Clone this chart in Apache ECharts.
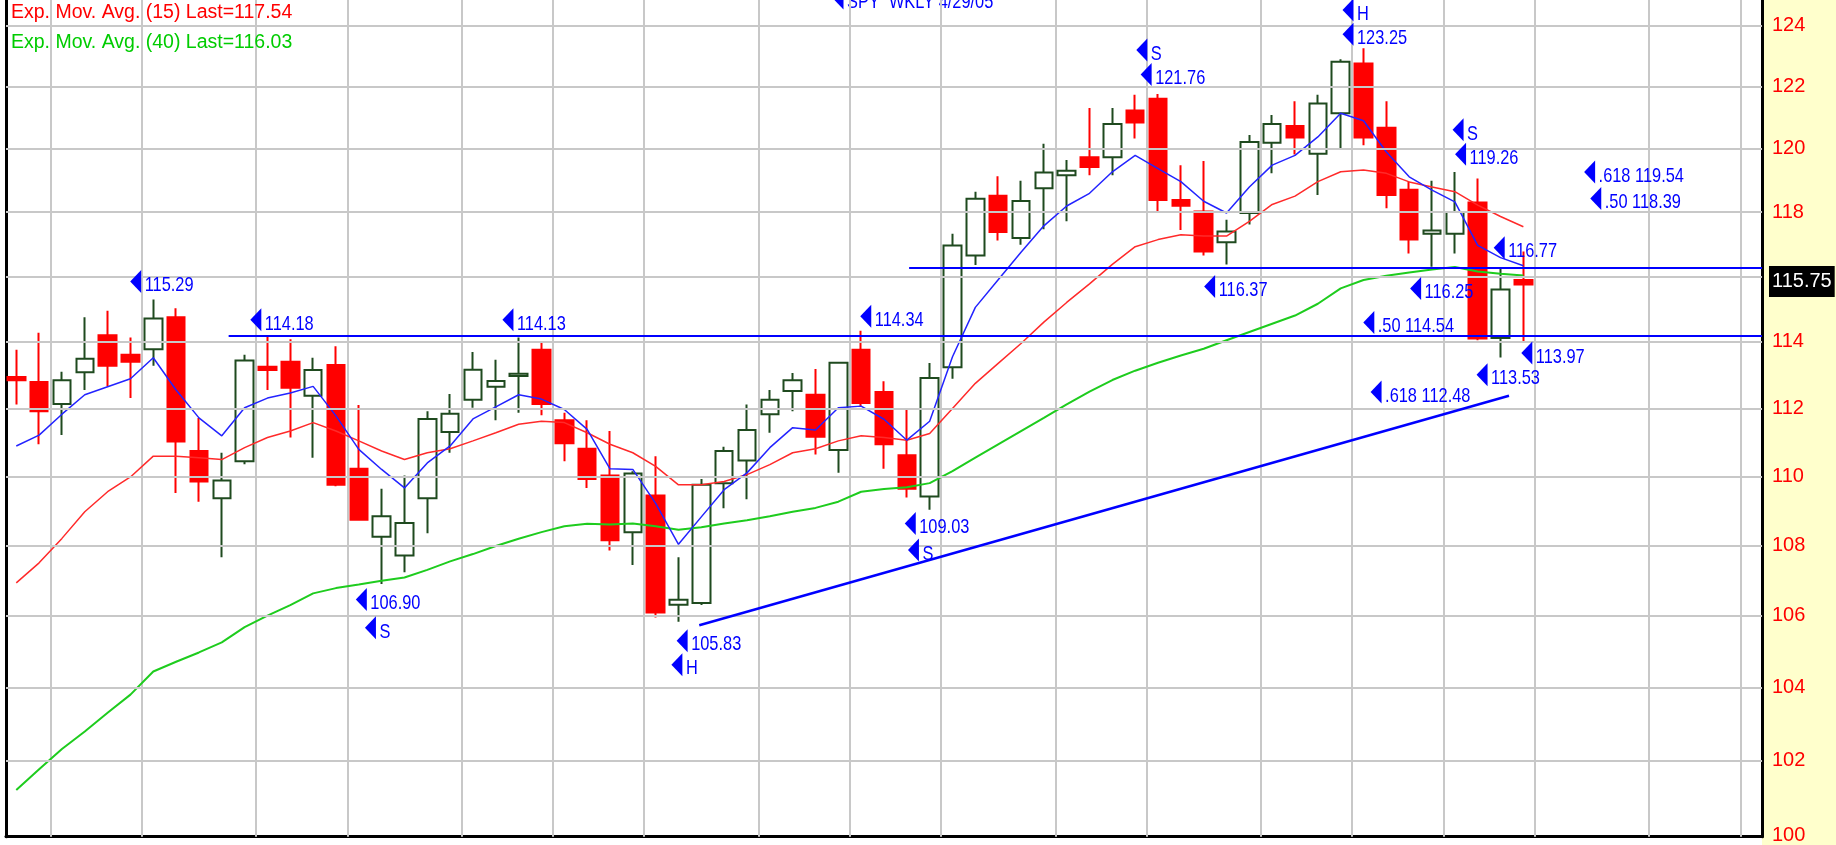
<!DOCTYPE html>
<html>
<head>
<meta charset="utf-8">
<title>SPY WKLY 4/29/05</title>
<script src="https://cdn.jsdelivr.net/npm/echarts@6.0.0/dist/echarts.min.js"></script>
<style>
  html, body { margin: 0; padding: 0; background: #fff; }
  #chart { width: 1836px; height: 845px; }
</style>
</head>
<body>
<div id="chart"></div>
<script>
// weekly bars, labelled by the monday of the week. the last weeks are the empty space on the right
var weeks = [
  '2004-01-19','2004-01-26','2004-02-02','2004-02-09','2004-02-16','2004-02-23','2004-03-01','2004-03-08',
  '2004-03-15','2004-03-22','2004-03-29','2004-04-05','2004-04-12','2004-04-19','2004-04-26','2004-05-03',
  '2004-05-10','2004-05-17','2004-05-24','2004-05-31','2004-06-07','2004-06-14','2004-06-21','2004-06-28',
  '2004-07-05','2004-07-12','2004-07-19','2004-07-26','2004-08-02','2004-08-09','2004-08-16','2004-08-23',
  '2004-08-30','2004-09-06','2004-09-13','2004-09-20','2004-09-27','2004-10-04','2004-10-11','2004-10-18',
  '2004-10-25','2004-11-01','2004-11-08','2004-11-15','2004-11-22','2004-11-29','2004-12-06','2004-12-13',
  '2004-12-20','2004-12-27','2005-01-03','2005-01-10','2005-01-17','2005-01-24','2005-01-31','2005-02-07',
  '2005-02-14','2005-02-21','2005-02-28','2005-03-07','2005-03-14','2005-03-21','2005-03-28','2005-04-04',
  '2005-04-11','2005-04-18','2005-04-25','2005-05-02','2005-05-09','2005-05-16','2005-05-23','2005-05-30',
  '2005-06-06','2005-06-13','2005-06-20','2005-06-27','2005-07-04'
];

var opens = [112.94,112.79,112.13,113.08,114.20,113.61,113.78,114.75,110.74,109.36,110.44,113.25,113.40,112.38,113.30,110.22,
  108.25,107.71,109.36,111.30,112.26,112.65,112.97,113.76,111.65,110.81,110.02,108.38,109.44,106.31,106.36,109.80,
  110.46,111.83,112.52,112.41,110.77,113.76,112.49,110.62,109.41,113.23,116.65,118.51,117.19,118.75,119.16,119.73,
  119.73,121.23,121.61,118.38,118.02,117.06,117.97,120.19,120.73,119.84,121.14,122.75,120.67,118.70,117.32,117.32,
  118.30,114.12,115.89];
var closes = [112.84,111.92,112.84,113.49,113.28,113.40,114.71,111.02,109.85,109.88,113.44,113.15,112.62,113.15,109.75,108.74,
  108.84,108.64,111.69,111.84,113.16,112.82,113.04,112.13,110.97,109.92,108.15,110.08,106.09,106.45,109.75,110.74,
  111.36,112.26,112.84,111.16,113.37,112.16,110.94,109.64,112.91,116.96,118.42,117.38,118.35,119.25,119.30,119.42,
  120.79,120.84,118.38,118.20,116.77,117.39,120.22,120.79,120.36,121.45,122.81,120.36,118.54,117.14,117.42,118.00,
  114.10,115.60,115.75];
var lows = [112.12,110.94,111.21,112.55,112.66,112.31,113.28,109.51,109.26,107.66,110.35,112.55,111.14,110.54,109.71,108.74,
  106.90,107.23,108.35,110.69,112.02,111.65,111.87,111.80,110.44,109.66,107.85,107.44,105.95,105.83,106.30,109.07,
  109.33,111.28,111.92,110.64,110.10,112.07,110.22,109.38,109.03,112.89,116.35,117.11,116.98,117.46,117.71,119.16,
  119.16,120.33,117.99,117.44,116.65,116.37,117.61,119.22,119.82,118.54,120.00,120.11,118.12,116.71,116.30,116.71,
  114.05,113.53,113.97];
var highs = [113.76,114.28,113.10,114.75,114.95,114.13,115.29,115.02,111.72,110.69,113.61,114.18,114.08,113.52,113.87,112.10,
  109.64,110.02,111.92,112.43,113.69,113.46,114.13,114.00,111.87,111.65,111.33,110.15,110.59,107.66,109.92,110.87,
  112.12,112.55,113.06,113.18,113.40,114.34,112.81,111.97,113.36,117.32,118.64,119.13,118.99,120.16,119.64,121.31,
  121.31,121.74,121.76,119.48,119.61,117.76,120.44,121.08,121.53,121.74,122.89,123.25,121.53,118.96,118.99,119.26,
  119.06,116.27,116.77];

// averages at each bar
var emaFast = [110.89,111.21,111.83,112.41,112.65,112.89,113.52,112.55,111.72,111.19,112.02,112.31,112.46,112.66,111.78,110.79,
  110.20,109.66,110.39,110.89,111.69,112.05,112.41,112.28,111.97,111.38,110.22,110.20,109.21,108.03,108.82,109.61,
  110.10,110.84,111.43,111.36,112.02,112.07,111.68,111.06,111.62,113.55,115.05,115.90,116.75,117.57,118.19,118.59,
  119.27,119.79,119.37,118.96,118.34,117.97,118.79,119.48,119.79,120.38,121.14,120.90,119.90,119.11,118.69,118.32,
  116.96,116.58,116.33];
var ema15 = [106.93,107.50,108.20,108.97,109.55,109.98,110.59,110.59,110.54,110.49,110.84,111.14,111.33,111.58,111.33,111.04,
  110.74,110.49,110.69,110.81,111.04,111.28,111.53,111.62,111.58,111.28,110.94,110.69,110.29,109.75,109.75,109.85,
  110.05,110.34,110.69,110.81,111.04,111.19,111.14,111.06,111.26,112.00,112.75,113.35,113.95,114.60,115.20,115.77,
  116.37,116.92,117.14,117.29,117.25,117.25,117.71,118.24,118.50,118.96,119.27,119.33,119.22,118.95,118.79,118.64,
  118.22,117.86,117.54];
var ema40 = [101.20,101.76,102.31,102.79,103.30,103.80,104.44,104.71,104.97,105.25,105.68,106.00,106.30,106.63,106.78,106.88,
  106.99,107.08,107.30,107.54,107.75,107.98,108.19,108.38,108.55,108.62,108.60,108.63,108.55,108.45,108.52,108.63,
  108.72,108.84,108.97,109.08,109.26,109.55,109.63,109.68,109.80,110.15,110.55,110.94,111.33,111.72,112.12,112.50,
  112.85,113.13,113.37,113.59,113.79,114.05,114.30,114.55,114.80,115.16,115.63,115.89,116.02,116.12,116.21,116.29,
  116.15,116.08,116.03];

var priceTicks = [100, 102, 104, 106, 108, 110, 112, 114, 116, 118, 120, 122, 124];

// drawn-in notes: [bar position, price, text]
var notes = [
  [5.23, 115.84, '115.29'], [10.49, 114.67, '114.18'], [21.53, 114.67, '114.13'], [37.2, 114.78, '114.34'],
  [39.15, 108.63, '109.03'], [39.29, 107.87, 'S'], [15.11, 106.46, '106.90'], [15.51, 105.66, 'S'],
  [29.16, 105.30, '105.83'], [28.93, 104.63, 'H'], [49.29, 123.19, 'S'], [49.48, 122.39, '121.76'],
  [58.32, 124.51, 'H'], [58.32, 123.71, '123.25'], [63.14, 120.61, 'S'], [63.25, 119.83, '119.26'],
  [68.9, 119.26, '.618 119.54'], [69.17, 118.43, '.50 118.39'], [64.94, 116.89, '116.77'],
  [52.26, 115.69, '116.37'], [61.28, 115.63, '116.25'], [59.23, 114.59, '.50 114.54'],
  [66.15, 113.66, '113.97'], [64.19, 113.01, '113.53'], [59.55, 112.49, '.618 112.48']
];

// horizontal levels [start bar, price], they run to the right edge
var levels = [[9.3, 114.18], [39.1, 116.27]];
// trend line [bar, price] -> [bar, price]
var trend = [[29.91, 105.73], [65.37, 112.38]];

var xMin = -0.45, xMax = weeks.length - 0.55;
var blue = '#0000ff';

// month gridlines sit between the last week of a month and the first of the next
var monthLines = [];
for (var i = 1; i < weeks.length; i++) {
  if (weeks[i].slice(5, 7) !== weeks[i - 1].slice(5, 7)) monthLines.push(i - 0.5);
}

var candles = opens.map(function (o, i) { return [i, o, closes[i], lows[i], highs[i]]; });
function pts(arr) { return arr.map(function (v, i) { return [i, v]; }); }

var lastClose = closes[closes.length - 1];

var markLines = levels.map(function (l) {
  return [{ coord: [l[0], l[1]] }, { coord: [xMax, l[1]] }];
});
markLines.push([{ coord: trend[0], lineStyle: { width: 2.5 } }, { coord: trend[1] }]);
markLines.push({
  yAxis: lastClose,
  lineStyle: { color: 'rgba(0,0,0,0)' },
  label: {
    show: true, position: 'end', distance: 7, offset: [0, -3],
    formatter: lastClose.toFixed(2),
    color: '#fff', backgroundColor: '#000', padding: [6, 3, 5, 3],
    fontSize: 20, fontFamily: 'Liberation Sans'
  }
});

// little blue pointer + squeezed text, like the old charting font
function noteShape(px, py, text) {
  return {
    type: 'group', x: px, y: py,
    children: [{
      type: 'polygon',
      shape: { points: [[5.5, -11.5], [5.5, 11.5], [-5.5, 0]] },
      style: { fill: blue }
    }, {
      type: 'text', x: 9, y: 4, scaleX: 0.78,
      style: { text: text, fill: blue, font: '21px "Liberation Sans"', verticalAlign: 'middle', align: 'left' }
    }]
  };
}

var chart = echarts.init(document.getElementById('chart'));
chart.setOption({
  animation: false,
  backgroundColor: '#fff',
  graphic: [{
    type: 'rect', z: -1, silent: true,
    shape: { x: 1762, y: 0, width: 74, height: 845 },
    style: { fill: '#ffffcc' }
  }, noteShape(838, -2, 'SPY  WKLY 4/29/05')],
  title: [{
    text: 'Exp. Mov. Avg. (15) Last=' + ema15[ema15.length - 1].toFixed(2), left: 11, top: 3, padding: 0,
    textStyle: { color: '#ff0000', fontSize: 19.5, fontWeight: 'normal', fontFamily: 'Liberation Sans' }
  }, {
    text: 'Exp. Mov. Avg. (40) Last=' + ema40[ema40.length - 1].toFixed(2), left: 11, top: 33, padding: 0,
    textStyle: { color: '#00cc00', fontSize: 19.5, fontWeight: 'normal', fontFamily: 'Liberation Sans' }
  }],
  grid: { left: 6, right: 74, top: 0, bottom: 3, show: true, backgroundColor: '#fff', borderWidth: 0 },
  xAxis: {
    type: 'value', min: xMin, max: xMax,
    axisLine: { show: true, onZero: false, lineStyle: { color: '#000', width: 3 } },
    axisTick: { show: true, inside: true, length: 842, customValues: monthLines, lineStyle: { color: '#c8c8c8', width: 2 } },
    axisLabel: { show: false },
    splitLine: { show: false }
  },
  yAxis: [{
    type: 'log', position: 'right', min: 99.955, max: 124.84,
    axisLine: { show: true, onZero: false, lineStyle: { color: '#000', width: 3 } },
    axisTick: { show: false },
    axisLabel: { show: true, customValues: priceTicks, color: '#ff0000', fontSize: 20, fontFamily: 'Liberation Sans', margin: 10 },
    splitLine: { show: false }
  }, {
    // just the black border on the left
    type: 'value', position: 'left', min: 0, max: 1,
    axisLine: { show: true, onZero: false, lineStyle: { color: '#000', width: 3 } },
    axisTick: { show: false }, axisLabel: { show: false }, splitLine: { show: false }
  }],
  series: [{
    // horizontal price gridlines
    type: 'line', data: [], z: 1, silent: true,
    markLine: {
      silent: true, symbol: ['none', 'none'], label: { show: false },
      lineStyle: { color: '#c8c8c8', width: 2, type: 'solid' },
      data: priceTicks.slice(1).map(function (v) { return { yAxis: v }; })
    }
  }, {
    type: 'candlestick',
    data: candles,
    barWidth: 18,
    itemStyle: { color: '#ffffff', color0: '#ff0000', borderColor: '#1f4a1f', borderColor0: '#ff0000', borderWidth: 2 },
    silent: true
  }, {
    type: 'line', data: pts(ema40), symbol: 'none', silent: true,
    lineStyle: { color: '#1ecc1e', width: 2 }
  }, {
    type: 'line', data: pts(ema15), symbol: 'none', silent: true,
    lineStyle: { color: '#ff2a2a', width: 1.5 }
  }, {
    type: 'line', data: pts(emaFast), symbol: 'none', silent: true,
    lineStyle: { color: '#2323ff', width: 1.5 }
  }, {
    type: 'custom',
    data: notes.map(function (n) { return [n[0], n[1]]; }),
    encode: { x: 0, y: 1 },
    clip: false, silent: true, z: 5,
    renderItem: function (params, api) {
      var p = api.coord([api.value(0), api.value(1)]);
      return noteShape(p[0], p[1], notes[params.dataIndex][2]);
    },
    markLine: {
      silent: true, symbol: ['none', 'none'],
      label: { show: false },
      lineStyle: { color: blue, width: 2, type: 'solid' },
      data: markLines
    }
  }]
});
</script>
</body>
</html>
